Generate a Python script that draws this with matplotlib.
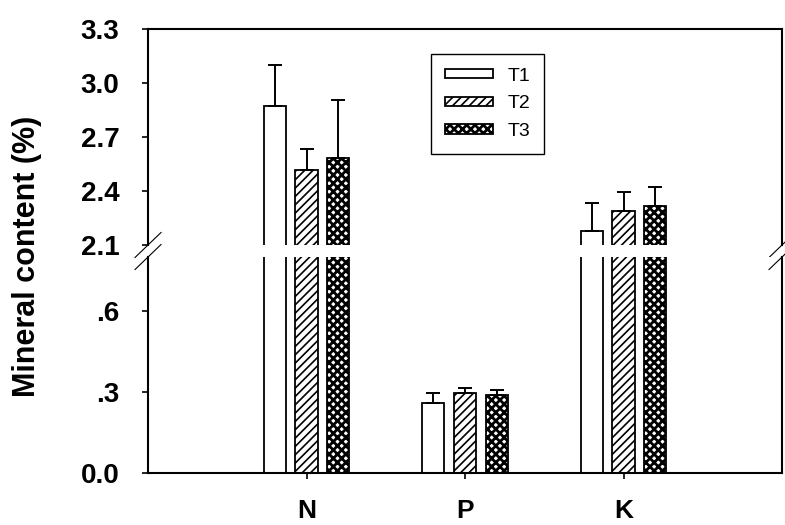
import numpy as np
import matplotlib
matplotlib.use("Agg")
import matplotlib.pyplot as plt

plt.rcParams["font.family"] = ["Liberation Sans", "DejaVu Sans"]
plt.rcParams["hatch.color"] = "black"

# values
nutrients = ["N", "P", "K"]
treatments = ["T1", "T2", "T3"]
t1 = [2.87, 0.26, 2.18]
t2 = [2.515, 0.298, 2.29]
t3 = [2.585, 0.29, 2.318]
t1_err = [0.232, 0.035, 0.153]
t2_err = [0.12, 0.016, 0.107]
t3_err = [0.32, 0.0185, 0.104]

top_ticks = [2.1, 2.4, 2.7, 3.0, 3.3]
bottom_ticks = [0.0, 0.3, 0.6]
bottom_labels = ["0.0", ".3", ".6"]

means = [t1, t2, t3]
errs = [t1_err, t2_err, t3_err]
hatches = [None, "////", "xxxx"]
hatch_lw = [1.0, 1.2, 2.0]
offsets = [-0.2, 0.0, 0.2]
x = np.arange(1, len(nutrients) + 1)

fig = plt.figure(figsize=(7.85, 5.25), dpi=100)
ax_top = fig.add_axes([148 / 785, 0.5333, 634 / 785, 0.4114])
ax_bot = fig.add_axes([148 / 785, 0.0990, 634 / 785, 0.4114])

handles = []
for ax in (ax_top, ax_bot):
    for i in range(3):
        with plt.rc_context({"hatch.linewidth": hatch_lw[i]}):
            bars = ax.bar(x + offsets[i], means[i], width=0.14, color="white",
                          edgecolor="black", linewidth=1.3, hatch=hatches[i],
                          label=treatments[i], zorder=2)
        for b in bars:
            if hasattr(b, "set_hatch_linewidth"):
                b.set_hatch_linewidth(hatch_lw[i])
        ax.errorbar(x + offsets[i], means[i],
                    yerr=[np.zeros(len(errs[i])), errs[i]], fmt="none",
                    ecolor="black", elinewidth=1.4, capsize=4.7, capthick=1.4,
                    zorder=3)
        if ax is ax_top:
            handles.append(bars)
    ax.set_xlim(0, 4)
    for s in ax.spines.values():
        s.set_linewidth(1.5)
    ax.tick_params(axis="y", direction="out", length=4.5, width=1.2,
                   labelsize=20, pad=16, right=False)

ax_top.set_ylim(2.1, 3.3)
ax_top.set_yticks(top_ticks)
ax_top.set_yticklabels(["%.1f" % v for v in top_ticks], fontweight="bold")
ax_top.spines["bottom"].set_visible(False)
ax_top.tick_params(axis="x", bottom=False, labelbottom=False)

ax_bot.set_ylim(0, 0.8)
ax_bot.set_yticks(bottom_ticks)
ax_bot.set_yticklabels(bottom_labels, fontweight="bold")
ax_bot.spines["top"].set_visible(False)
ax_bot.set_xticks(x)
ax_bot.set_xticklabels(nutrients, fontweight="bold")
ax_bot.tick_params(axis="x", direction="out", length=4.5, width=1.2,
                   labelsize=19, pad=14)

# break marks
dx, dy = 13 / 634, 12.5 / 216
for ax, yc in ((ax_top, 0), (ax_bot, 1)):
    for xc in (0, 1):
        ax.plot([xc - dx, xc + dx], [yc - dy, yc + dy], transform=ax.transAxes,
                color="black", linewidth=0.8, clip_on=False)

with plt.rc_context({"hatch.linewidth": 2.0}):
    leg = ax_top.legend(handles, treatments, loc="upper left",
                        bbox_to_anchor=(431 / 785, 1 - 54 / 525),
                        bbox_transform=fig.transFigure, borderaxespad=0,
                        fontsize=14, handlelength=2.5, handleheight=0.36,
                        handletextpad=0.75, labelspacing=0.55, borderpad=0.7,
                        fancybox=False, edgecolor="black", framealpha=1)
leg.get_frame().set_linewidth(1.0)
for h, lw in zip(leg.legend_handles, hatch_lw):
    if hasattr(h, "set_hatch_linewidth"):
        h.set_hatch_linewidth(lw)
    h.set_linewidth(1.3)

fig.text(27 / 785, 1 - 256 / 525, "Mineral content (%)", rotation=90,
         ha="center", va="center", fontsize=22, fontweight="bold")

fig.savefig("out.png", dpi=100)
